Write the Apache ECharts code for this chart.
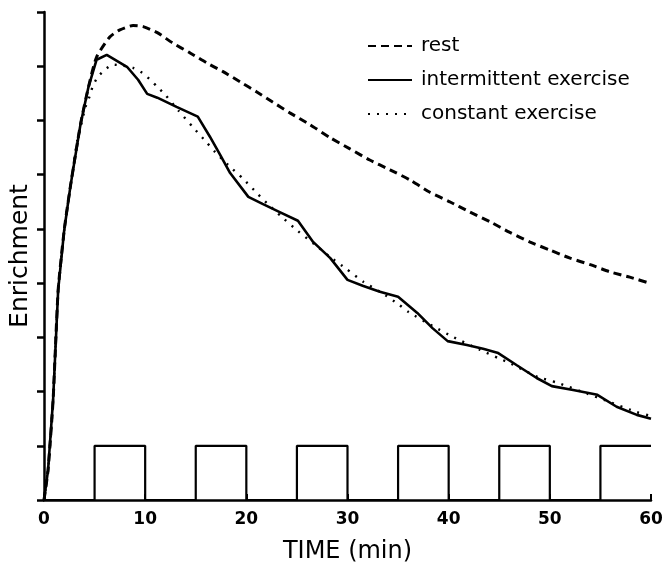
<!DOCTYPE html>
<html>
<head>
<meta charset="utf-8">
<script src="https://cdn.jsdelivr.net/npm/echarts@6/dist/echarts.min.js"></script>
<style>
  html, body { margin: 0; padding: 0; background: #fff; }
  #chart { width: 662px; height: 568px; }
</style>
</head>
<body>
<div id="chart"></div>
<script>
  // time (min) and enrichment values
  const restTime = [0, 0.4, 0.9, 1.4, 2.0, 2.6, 3.6, 4.4, 5.2, 6.5, 7.5, 8.8, 9.8, 11.2, 12.7, 14.4, 16.1, 17.7, 19.4, 21.0, 22.6, 24.3, 26.3, 28.3, 30.2, 32.2, 34.2, 36.2, 38.1, 40.1, 42.1, 44.1, 46.0, 48.0, 50.0, 52.0, 54.0, 55.9, 57.9, 60]
  const restValue = [0, 0.55, 1.85, 3.87, 4.98, 5.77, 6.92, 7.62, 8.17, 8.54, 8.67, 8.75, 8.73, 8.62, 8.43, 8.25, 8.06, 7.90, 7.71, 7.53, 7.34, 7.14, 6.92, 6.68, 6.48, 6.27, 6.09, 5.90, 5.68, 5.50, 5.31, 5.13, 4.94, 4.76, 4.61, 4.46, 4.34, 4.21, 4.11, 3.99]

  const intermittentTime = [0, 0.4, 0.9, 1.4, 2.0, 2.6, 3.6, 4.4, 5.2, 6.2, 8.2, 9.3, 10.2, 11.2, 13.1, 15.2, 16.4, 17.4, 18.4, 20.2, 21.6, 23.3, 25.1, 26.6, 28.3, 30.0, 31.5, 33.2, 35.0, 36.9, 38.4, 39.9, 41.8, 43.4, 44.9, 46.7, 48.7, 50.2, 52.3, 54.7, 56.6, 58.6, 60]
  const intermittentValue = [0, 0.55, 1.85, 3.87, 4.98, 5.77, 6.92, 7.62, 8.12, 8.21, 7.99, 7.75, 7.49, 7.42, 7.25, 7.07, 6.70, 6.37, 6.03, 5.59, 5.46, 5.31, 5.15, 4.76, 4.46, 4.06, 3.95, 3.84, 3.75, 3.45, 3.17, 2.93, 2.86, 2.79, 2.71, 2.49, 2.25, 2.10, 2.03, 1.94, 1.72, 1.57, 1.50]

  const constantTime = [0, 0.4, 0.9, 1.4, 2.0, 2.6, 3.3, 3.6, 4.1, 4.5, 4.8, 5.3, 6.0, 6.8, 7.8, 8.8, 9.7, 10.5, 11.2, 12.0, 13.3, 14.7, 16.1, 16.9, 18.2, 19.7, 21.1, 22.0, 23.5, 25.1, 26.7, 28.3, 29.9, 31.6, 33.4, 35.1, 36.0, 38.6, 40.4, 43.1, 45.1, 46.0, 48.8, 50.8, 53.7, 55.6, 58.6, 60]
  const constantValue = [0, 0.55, 1.85, 3.87, 4.98, 5.77, 6.64, 6.86, 7.25, 7.44, 7.62, 7.80, 7.93, 8.03, 8.01, 7.97, 7.88, 7.75, 7.62, 7.47, 7.18, 6.88, 6.59, 6.42, 6.18, 5.92, 5.65, 5.48, 5.22, 4.96, 4.72, 4.48, 4.26, 4.02, 3.82, 3.60, 3.47, 3.19, 3.01, 2.77, 2.60, 2.53, 2.27, 2.16, 1.96, 1.83, 1.62, 1.55]

  // exercise periods (square wave at the bottom)
  const exerciseTime = [0, 5, 5, 10, 10, 15, 15, 20, 20, 25, 25, 30, 30, 35, 35, 40, 40, 45, 45, 50, 50, 55, 55, 60]
  const exerciseLevel = [0, 0, 1, 1, 0, 0, 1, 1, 0, 0, 1, 1, 0, 0, 1, 1, 0, 0, 1, 1, 0, 0, 1, 1]

  const seriesNames = ['rest', 'intermittent exercise', 'constant exercise']

  function zip(xs, ys) {
    return xs.map((x, i) => [x, ys[i]])
  }

  const font = 'DejaVu Sans'
  let chart = echarts.init(document.getElementById('chart'))

  chart.setOption({
    animation: false,
    backgroundColor: '#fff',
    textStyle: {fontFamily: font, color: '#000'},
    grid: {left: 44, right: 11, top: 12, bottom: 68, outerBoundsMode: 'none'},
    legend: {
      data: seriesNames,
      orient: 'vertical',
      left: 362,
      top: 31,
      itemWidth: 44,
      itemHeight: 14,
      itemGap: 14,
      itemStyle: {color: 'rgba(0,0,0,0)', borderWidth: 0},
      textStyle: {fontFamily: font, fontSize: 20, lineHeight: 20, color: '#000', padding: [0, 0, 0, 4]}
    },
    xAxis: {
      type: 'value',
      min: 0,
      max: 60,
      interval: 10,
      name: 'TIME (min)',
      nameLocation: 'middle',
      nameGap: 40,
      nameTextStyle: {fontFamily: font, fontSize: 24, color: '#000'},
      axisLine: {lineStyle: {color: '#000', width: 2.5}},
      axisTick: {inside: true, length: 6, lineStyle: {color: '#000', width: 2}},
      axisLabel: {color: '#000', fontSize: 17, fontWeight: 'bold', margin: 11, fontFamily: font},
      splitLine: {show: false}
    },
    yAxis: {
      type: 'value',
      min: 0,
      max: 9,
      interval: 1,
      name: 'Enrichment',
      nameLocation: 'middle',
      nameGap: 11,
      nameTextStyle: {fontFamily: font, fontSize: 25, color: '#000'},
      axisLine: {show: true, lineStyle: {color: '#000', width: 2.5}},
      axisTick: {show: true, length: 7, lineStyle: {color: '#000', width: 2.5}},
      axisLabel: {show: false},
      splitLine: {show: false}
    },
    series: [
      {
        name: 'rest',
        type: 'line',
        symbol: 'none',
        smooth: 0.2,
        lineStyle: {color: '#000', width: 3, type: [8, 5]},
        itemStyle: {color: '#000'},
        data: zip(restTime, restValue)
      },
      {
        name: 'intermittent exercise',
        type: 'line',
        symbol: 'none',
        lineStyle: {color: '#000', width: 2.6, type: 'solid'},
        itemStyle: {color: '#000'},
        data: zip(intermittentTime, intermittentValue)
      },
      {
        name: 'constant exercise',
        type: 'line',
        symbol: 'none',
        smooth: 0.2,
        lineStyle: {color: '#000', width: 2.4, type: [2, 7]},
        itemStyle: {color: '#000'},
        data: zip(constantTime, constantValue)
      },
      {
        name: 'exercise',
        type: 'line',
        symbol: 'none',
        lineStyle: {color: '#000', width: 2.2},
        itemStyle: {color: '#000'},
        data: zip(exerciseTime, exerciseLevel)
      }
    ]
  })
</script>
</body>
</html>
